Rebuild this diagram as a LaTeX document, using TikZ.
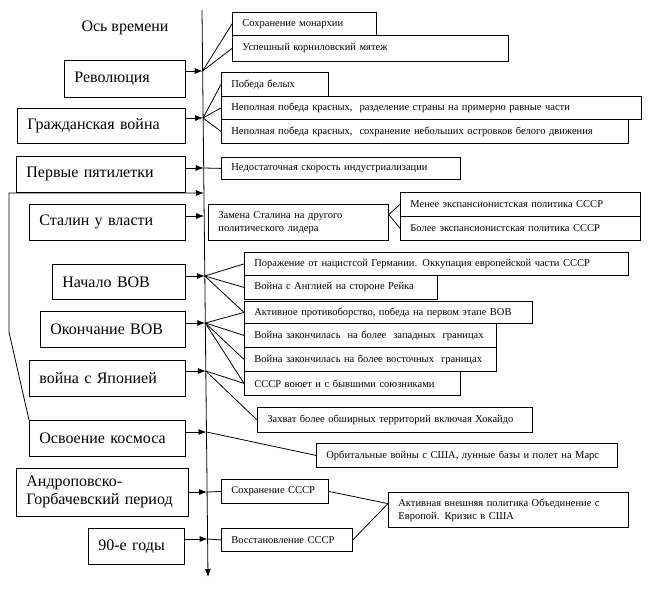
\documentclass[tikz,border=0pt]{standalone}
\usepackage{fontspec}
\setmainfont{Liberation Serif}
\usepackage{tikz}
\usetikzlibrary{arrows.meta, calc}

\begin{document}
\begin{tikzpicture}[x=1pt, y=-1pt, line width=0.8pt,
    period/.style={draw, anchor=north west, align=left, inner xsep=10pt, inner ysep=0pt, font=\fontsize{16}{18}\selectfont},
    outcome/.style={draw, anchor=north west, align=left, inner xsep=10pt, inner ysep=0pt, font=\fontsize{10.5}{13}\selectfont},
    tip/.style={-{Latex[length=8pt, width=6pt]}}]
            \useasboundingbox (0,0) rectangle (656,589);

            % Axis
            \coordinate (axtop) at (202,10);
            \coordinate (axbot) at (208,577);
            \draw[tip] (axtop) -- (axbot);
            \node at (125,28) {\fontsize{16}{18}\selectfont Ось времени};

            \coordinate (t-rev) at (202.6,71);
            \coordinate (t-civ) at (203.1,118);
            \coordinate (t-five) at (203.7,168);
            \coordinate (t-back) at (203.9,193);
            \coordinate (t-stal) at (204.2,216);
            \coordinate (t-wwbeg) at (204.8,276);
            \coordinate (t-wwend) at (205.3,323);
            \coordinate (t-jap) at (205.8,371);
            \coordinate (t-space) at (206.5,432);
            \coordinate (t-andr) at (207.1,492);
            \coordinate (t-nin) at (207.6,539);

            % Periods
            \node[period, text width=101pt, minimum height=37pt] (rev) at (64,60) {Революция};
            \node[period, text width=148pt, minimum height=35pt] (civ) at (17,108) {Гражданская война};
            \node[period, text width=149pt, minimum height=36pt] (five) at (16,156) {Первые пятилетки};
            \node[period, text width=136pt, minimum height=36pt] (stal) at (29,204) {Сталин у власти};
            \node[period, text width=113pt, minimum height=35pt] (wwbeg) at (52,264) {Начало ВОВ};
            \node[period, text width=125pt, minimum height=36pt] (wwend) at (40,311) {Окончание ВОВ};
            \node[period, text width=136pt, minimum height=36pt] (jap) at (29,360) {война с Японией};
            \node[period, text width=136pt, minimum height=36pt] (space) at (29,420) {Освоение космоса};
            \node[period, text width=152pt, minimum height=48pt] (andr) at (16,468) {Андроповско-\\Горбачевский период};
            \node[period, text width=76pt, minimum height=36pt] (nin) at (88,528) {90-е годы};

            % Outcomes
            \node[outcome, text width=124pt, minimum height=23pt] (mon) at (232,12) {Сохранение монархии};
            \node[outcome, text width=256pt, minimum height=26pt] (korn) at (232,35) {Успешный корниловский мятеж};
            \node[outcome, text width=87pt, minimum height=24pt] (white) at (221,72) {Победа белых};
            \node[outcome, text width=400pt, minimum height=23pt] (split) at (221,96) {Неполная победа красных,\ \ разделение страны на примерно равные части};
            \node[outcome, text width=387pt, minimum height=24pt] (isles) at (221,119) {Неполная победа красных,\ \ сохранение небольших островков белого движения};
            \node[outcome, text width=219pt, minimum height=22pt] (indus) at (221,157) {Недостаточная скорость индустриализации};
            \node[outcome, text width=160pt, minimum height=36pt] (repl) at (208,204) {Замена Сталина на другого\\политического лидера};
            \node[outcome, text width=220pt, minimum height=24pt] (less) at (400,192) {Менее экспансионистская политика СССР};
            \node[outcome, text width=220pt, minimum height=24pt] (more) at (400,216) {Более экспансионистская политика СССР};
            \node[outcome, text width=364pt, minimum height=23pt] (defeat) at (244,252) {Поражение от нацистсой Германии. Оккупация европейской части СССР};
            \node[outcome, text width=173pt, minimum height=24pt] (engl) at (244,275) {Война с Англией на стороне Рейка};
            \node[outcome, text width=268pt, minimum height=22pt] (active) at (244,301) {Активное противоборство, победа на первом этапе ВОВ};
            \node[outcome, text width=232pt, minimum height=24pt] (west) at (244,323) {Война закончилась\ \ на более\ \ западных\ \ границах};
            \node[outcome, text width=232pt, minimum height=24pt] (east) at (244,347) {Война закончилась на более восточных\ \ границах};
            \node[outcome, text width=196pt, minimum height=24pt] (allies) at (244,371) {СССР воюет и с бывшими союзниками};
            \node[outcome, text width=255pt, minimum height=25pt] (hokk) at (257,407) {Захват более обширных территорий включая Хокайдо};
            \node[outcome, text width=281pt, minimum height=24pt] (orbit) at (316,443) {Орбитальные войны с США, лунные базы и полет на Марс};
            \node[outcome, text width=87pt, minimum height=24pt] (keep) at (221,479) {Сохранение СССР};
            \node[outcome, text width=111pt, minimum height=23pt] (rest) at (221,528) {Восстановление СССР};
            \node[outcome, text width=220pt, minimum height=35pt] (europe) at (388,492) {Активная внешняя политика Объединение с\\Европой. Кризис в США};

            % Arrows to the axis
            \draw[tip] (rev.east |- t-rev) -- (t-rev);
            \draw[tip] (civ.east |- t-civ) -- (t-civ);
            \draw[tip] (five.east |- t-five) -- (t-five);
            \draw[tip] (stal.east |- t-stal) -- (t-stal);
            \draw[tip] (wwbeg.east |- t-wwbeg) -- (t-wwbeg);
            \draw[tip] (wwend.east |- t-wwend) -- (t-wwend);
            \draw[tip] (jap.east |- t-jap) -- (t-jap);
            \draw[tip] (space.east |- t-space) -- (t-space);
            \draw[tip] (andr.east |- t-andr) -- (t-andr);
            \draw[tip] (nin.east |- t-nin) -- (t-nin);
            \draw[tip] (space.north west) -- (9,332) -- (9,193) -- (t-back);

            % Edges
            \draw (t-rev) -- (mon.west);
            \draw (t-rev) -- (korn.west);
            \draw (t-civ) -- (white.west);
            \draw (t-civ) -- (split.west);
            \draw (t-civ) -- (isles.west);
            \draw (t-five) -- (indus.west);
            \draw (repl.5) -- (less.west);
            \draw (repl.5) -- (more.west);
            \draw (t-wwbeg) -- (defeat.west);
            \draw (t-wwbeg) -- (engl.west);
            \draw (t-wwbeg) -- (active.west);
            \draw (t-wwend) -- (active.west);
            \draw (t-wwend) -- (west.west);
            \draw (t-wwend) -- (east.west);
            \draw (t-wwend) -- (allies.west);
            \draw (t-jap) -- (allies.west);
            \draw (t-jap) -- (hokk.west);
            \draw (t-space) -- (orbit.west);
            \draw (t-andr) -- (keep.west);
            \draw (t-nin) -- (rest.west);
            \draw (keep.east) -- (europe.177);
            \draw (rest.east) -- (europe.177);
        \end{tikzpicture}
\end{document}
